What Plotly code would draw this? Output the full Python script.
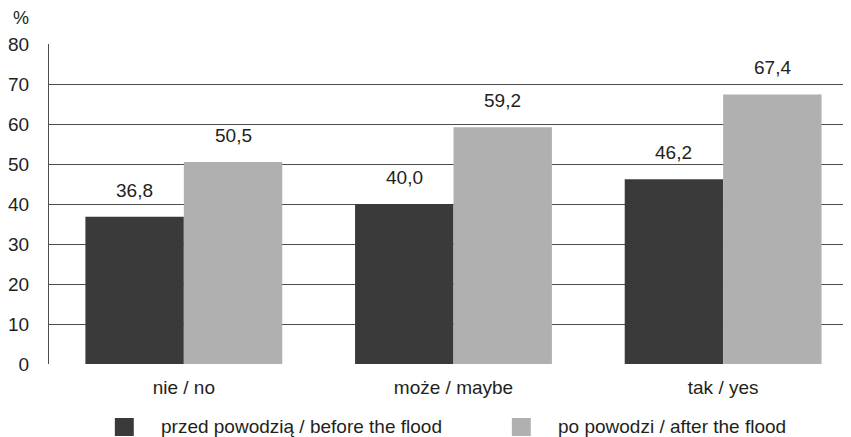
import plotly.graph_objects as go

categories = ["nie / no", "może / maybe", "tak / yes"]
before = [36.8, 40.0, 46.2]
after = [50.5, 59.2, 67.4]
series_names = ["przed powodzią / before the flood", "po powodzi / after the flood"]
y_ticks = [0, 10, 20, 30, 40, 50, 60, 70, 80]

# page body has an 8px margin, so figure is sized/offset accordingly
OFF = 8
W, H = 851 - OFF, 437 - OFF
ML, MR, MT = 39, 0, 36
MB = H - (364 - OFF)
PW, PH = W - ML - MR, H - MT - MB
DARK, LIGHT = "#3a3a3a", "#b0b0b0"
FONT = "Liberation Sans, Arial, sans-serif"
TXT = "#231f20"
FS = 19
BARGAP = 0.27

xs = list(range(len(categories)))
fig = go.Figure()
fig.add_bar(x=xs, y=before, name=series_names[0], marker_color=DARK, marker_line_width=0)
fig.add_bar(x=xs, y=after, name=series_names[1], marker_color=LIGHT, marker_line_width=0)

off = (1 - BARGAP) / 4
fmt = lambda v: f"{v:.1f}".replace(".", ",")
for i in xs:
    for v, d in ((before[i], -off), (after[i], off)):
        fig.add_annotation(x=i + d, y=v, text=fmt(v), showarrow=False, yanchor="bottom",
                           yshift=14, font=dict(size=FS, color=TXT, family=FONT))


def px2x(px):
    return (px - OFF - ML) / PW


def py2y(py):
    return 1 - (py - OFF - MT) / PH


fig.add_annotation(xref="paper", yref="paper", x=px2x(18.5), y=py2y(18),
                   text="%", showarrow=False, xanchor="center", yanchor="middle",
                   font=dict(size=18, color=TXT, family=FONT))

legend_items = [(113, 157, DARK), (511, 555, LIGHT)]
for (sq, tx, col), name in zip(legend_items, series_names):
    fig.add_shape(type="rect", xref="paper", yref="paper", x0=px2x(sq), x1=px2x(sq + 19),
                  y0=py2y(436), y1=py2y(418), fillcolor=col, line_width=0)
    fig.add_annotation(xref="paper", yref="paper", x=px2x(tx), y=py2y(426), text=name,
                       showarrow=False, xanchor="left", yanchor="middle",
                       font=dict(size=FS, color=TXT, family=FONT))

fig.update_layout(
    width=W, height=H, margin=dict(l=ML, r=MR, t=MT, b=MB),
    paper_bgcolor="white", plot_bgcolor="white", showlegend=False,
    barmode="group", bargap=BARGAP, bargroupgap=0,
    font=dict(family=FONT, size=FS, color=TXT),
    xaxis=dict(tickvals=xs, ticktext=categories, range=[-0.5, 2.5 - 7 / 270.5],
               showgrid=False, zeroline=False, showline=False, ticks="", ticklabelstandoff=10,
               tickfont=dict(size=FS, color=TXT)),
    yaxis=dict(range=[0, 80], tickvals=y_ticks, showgrid=True, gridcolor="#4d4d4d", gridwidth=1,
               zeroline=False, showline=True, linecolor="#4d4d4d", linewidth=1, ticks="",
               ticklabelstandoff=15, tickfont=dict(size=FS, color=TXT)),
)
fig.write_html("out.html")
